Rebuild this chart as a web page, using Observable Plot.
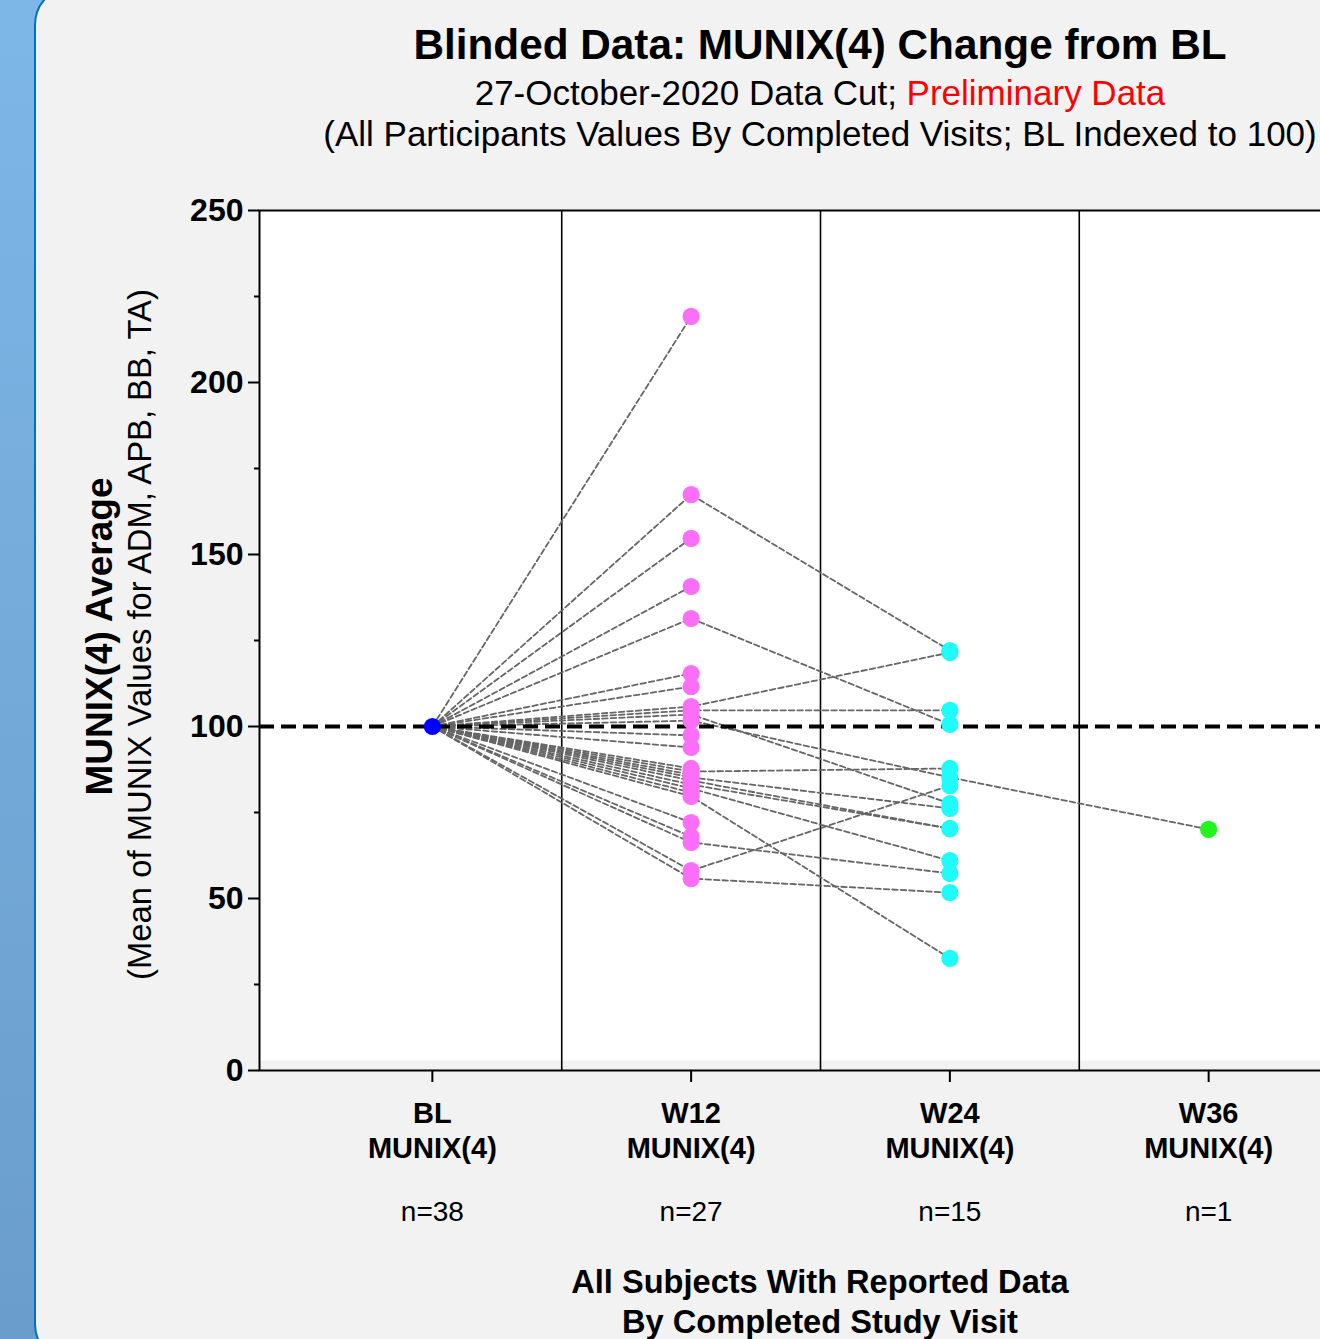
<!DOCTYPE html>
<html>
<head>
<meta charset="utf-8">
<script src="https://cdn.jsdelivr.net/npm/d3@7"></script>
<script src="https://cdn.jsdelivr.net/npm/@observablehq/plot@0.6"></script>
<style>
html, body { margin: 0; padding: 0; }
body {
  width: 1320px; height: 1339px; overflow: hidden; position: relative;
  background: linear-gradient(180deg, #7db7e8 0%, #6a9dcb 100%);
  font-family: "Liberation Sans", Arial, sans-serif;
}
#panel {
  position: absolute; left: 34px; top: -15px; width: 1420px; height: 1379px;
  box-sizing: border-box; border: 2px solid #0070c0; border-radius: 40px;
  background: #f2f2f2;
}
.t { position: absolute; left: 0; width: 1640px; text-align: center; white-space: nowrap; color: #000; }
#title { top: 24px; font-size: 42.3px; line-height: 42px; font-weight: bold; }
#sub1 { top: 75px; font-size: 35px; line-height: 35px; }
#sub2 { top: 116px; font-size: 35px; line-height: 35px; }
#xtitle { top: 1262px; font-size: 32.6px; line-height: 40px; font-weight: bold; }
#chart { position: absolute; left: 0; top: 170px; width: 1400px; }
</style>
</head>
<body>
<div id="panel"></div>
<div class="t" id="title">Blinded Data: MUNIX(4) Change from BL</div>
<div class="t" id="sub1">27-October-2020 Data Cut; <span style="color:#ff0000">Preliminary Data</span></div>
<div class="t" id="sub2">(All Participants Values By Completed Visits; BL Indexed to 100)</div>
<div id="chart"></div>
<div class="t" id="xtitle">All Subjects With Reported Data<br>By Completed Study Visit</div>
<script>
// ---- data ----
const visits = ["BL", "W12", "W24", "W36"];
const visitCounts = [38, 27, 15, 1];
const measureName = "MUNIX(4)";
const baseline = 100;
// one entry per participant with a W12 visit (BL indexed to 100)
const w12 = [219.2, 167.4, 154.7, 140.7, 131.4, 115.4, 111.6, 105.8, 104.7, 103.5, 101.7, 97.4, 93.9, 87.8,
             86.9, 86.0, 85.2, 84.3, 83.1, 82.0, 80.8, 79.7, 72.1, 68.0, 66.3, 58.1, 55.8];
const w24 = [null, 122.1, null, null, 100.6, null, null, 121.5, 104.7, 77.6, 85.2, null, null, null,
             87.8, null, 76.2, 70.3, 70.3, 61.0, null, 32.6, null, null, 57.3, 82.8, 51.7];
const w36 = [null, null, null, null, null, null, null, null, null, null, 70.1, null, null, null,
             null, null, null, null, null, null, null, null, null, null, null, null, null];
const yTicks = [0, 50, 100, 150, 200, 250];
const yMinorTicks = [25, 75, 125, 175, 225];
const yTitle = "MUNIX(4) Average";
const ySubtitle = "(Mean of MUNIX Values for ADM, APB, BB, TA)";
const pointColors = ["#0000ff", "#fb6ef7", "#1ffbfb", "#22f51c"];

// ---- long table ----
const rows = [];
w12.forEach((v, i) => {
  rows.push({s: i, v: 0, y: baseline});
  rows.push({s: i, v: 1, y: v});
  if (w24[i] != null) rows.push({s: i, v: 2, y: w24[i]});
  if (w36[i] != null) rows.push({s: i, v: 3, y: w36[i]});
});
const visitIdx = visits.map((_, i) => i);
const separators = d3.range(1, visits.length).map(i => i - 0.5);

const chart = Plot.plot({
  width: 1400,
  height: 1075,
  marginLeft: 259,
  marginRight: 19,
  marginTop: 40,
  marginBottom: 175,
  style: {background: "transparent", maxWidth: "none", overflow: "visible", fontFamily: "'Liberation Sans', Arial, sans-serif", color: "#000"},
  x: {type: "linear", domain: [-0.668, visits.length - 1 + 0.668], label: null},
  y: {domain: [0, 250], label: null},
  marks: [
    Plot.frame({fill: "white", insetBottom: 10}),
    Plot.ruleX(separators, {stroke: "#000", strokeWidth: 1.6}),
    Plot.line(rows, {x: "v", y: "y", z: "s", stroke: "#666666", strokeWidth: 1.8, strokeDasharray: "5.5,3"}),
    Plot.ruleY([baseline], {stroke: "#000", strokeWidth: 4, strokeDasharray: "15,7"}),
    Plot.dot(rows.filter(d => d.v === 0).slice(0, 1), {x: "v", y: "y", r: 8.6, fill: pointColors[0]}),
    Plot.dot(rows.filter(d => d.v === 1), {x: "v", y: "y", r: 8.6, fill: pointColors[1]}),
    Plot.dot(rows.filter(d => d.v === 2), {x: "v", y: "y", r: 8.6, fill: pointColors[2]}),
    Plot.dot(rows.filter(d => d.v === 3), {x: "v", y: "y", r: 8.6, fill: pointColors[3]}),
    Plot.frame({stroke: "#000", strokeWidth: 2}),
    Plot.axisY(yTicks, {tickSize: 11, tickPadding: 5, fontSize: 32, fontWeight: "bold", strokeWidth: 2, label: null}),
    Plot.axisY(yMinorTicks, {tickSize: 5, tickFormat: () => "", strokeWidth: 2, label: null}),
    Plot.axisX(visitIdx, {tickSize: 12, tickPadding: 16, tickFormat: i => visits[i] + "\n" + measureName,
      fontSize: 29, fontWeight: "bold", lineHeight: 1.2, strokeWidth: 2, label: null}),
    Plot.axisX(visitIdx, {tickSize: 0, tickPadding: 131, tickFormat: i => "n=" + visitCounts[i], fontSize: 28, label: null}),
    Plot.text([yTitle], {text: d => d, frameAnchor: "left", rotate: -90, dx: -159, dy: -4, fontSize: 37, fontWeight: "bold", textAnchor: "middle", lineAnchor: "middle"}),
    Plot.text([ySubtitle], {text: d => d, frameAnchor: "left", rotate: -90, dx: -119, dy: -6, fontSize: 32.8, textAnchor: "middle", lineAnchor: "middle"})
  ]
});
document.getElementById("chart").appendChild(chart);
</script>
</body>
</html>
